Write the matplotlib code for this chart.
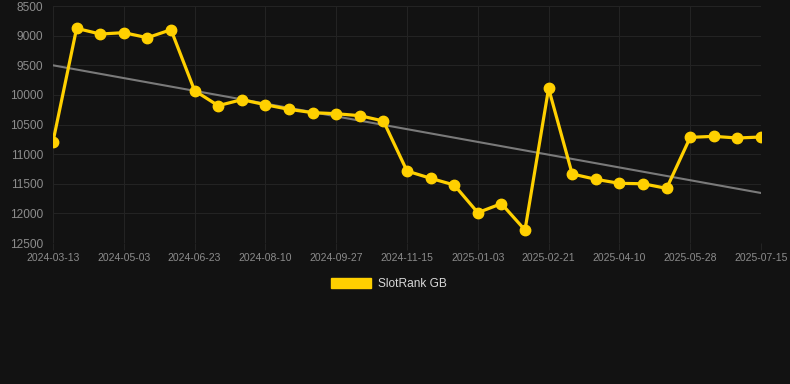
import numpy as np
import matplotlib
matplotlib.use("Agg")
import matplotlib.pyplot as plt
from matplotlib.patches import Patch

# rank values, one point every ~16 days
ranks = [10790, 8877, 8973, 8950, 9035, 8900, 9929, 10182, 10081, 10166,
         10244, 10300, 10318, 10351, 10441, 11285, 11408, 11521, 11988, 11836,
         12281, 9890, 11335, 11425, 11493, 11500, 11578, 10717, 10700, 10728,
         10711]
tick_labels = ["2024-03-13", "2024-05-03", "2024-06-23", "2024-08-10",
               "2024-09-27", "2024-11-15", "2025-01-03", "2025-02-21",
               "2025-04-10", "2025-05-28", "2025-07-15"]
y_ticks = [8500, 9000, 9500, 10000, 10500, 11000, 11500, 12000, 12500]

bg = "#121212"
gold = "#FFD000"
grid_c = "#232323"
txt_c = "#8c8c8c"

plt.rcParams["font.family"] = ["Liberation Sans", "DejaVu Sans"]

fig = plt.figure(figsize=(7.9, 3.84), dpi=100, facecolor=bg)
ax = fig.add_axes([53 / 790, 1 - 243 / 384, 708 / 790, 237 / 384])
ax.set_facecolor(bg)

x = np.arange(len(ranks))
# trend line (least squares)
k, b = np.polyfit(x, ranks, 1)
ax.plot(x, k * x + b, color="#7a7a7a", lw=1.5, zorder=2)

ax.plot(x, ranks, color=gold, lw=2.3, marker="o", markersize=7.5,
        markerfacecolor=gold, markeredgecolor=gold, zorder=3)

ax.set_xlim(0, len(ranks) - 1)
ax.set_ylim(12500, 8500)
ax.set_yticks(y_ticks)
ax.set_yticklabels([str(v) for v in y_ticks])
ax.set_xticks(x[::3])
ax.set_xticklabels(tick_labels)

ax.grid(True, color=grid_c, lw=0.8)
ax.set_axisbelow(True)
for s in ax.spines.values():
    s.set_visible(False)

ax.tick_params(axis="y", length=0, pad=7, labelsize=8.6, labelcolor=txt_c)
ax.tick_params(axis="x", length=5, color=grid_c, pad=2, labelsize=7.5,
               labelcolor=txt_c)

fig.legend(handles=[Patch(facecolor=gold, edgecolor=gold)],
           labels=["SlotRank GB"], loc="center",
           bbox_to_anchor=(0.492, 1 - 284 / 384), frameon=False,
           handlelength=3.4, handleheight=0.95, handletextpad=0.55,
           fontsize=8.6, labelcolor="#d8d8d8")

fig.savefig("out.png", dpi=100, facecolor=bg)
